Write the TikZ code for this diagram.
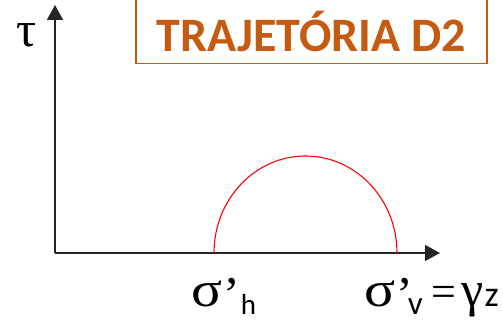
\documentclass[tikz,border=0pt]{standalone}
\usepackage{fontspec}
\setmainfont{Carlito}
\newfontfamily\grk{Liberation Serif}
\usetikzlibrary{arrows.meta,positioning}
\definecolor{trajorange}{RGB}{197,90,17}
\newcommand{\gk}[1]{{\grk\fontsize{50}{54}\selectfont #1}}
\newcommand{\prm}{\raisebox{-5pt}{\gk{’}}}

\begin{document}
\begin{tikzpicture}[x=1pt,y=1pt,>={Triangle[length=15pt,width=16pt]},
  axis/.style={line width=1.5pt,draw=black!85},
  mohr/.style={draw=red,line width=1.1pt},
  titlebox/.style={draw=trajorange,line width=1.5pt,text=trajorange,
    minimum width=351pt,minimum height=64pt,inner sep=0pt,
    font=\fontsize{48}{52}\selectfont\bfseries},
  lbl/.style={inner sep=0pt,font=\fontsize{33}{36}\selectfont}]
  \useasboundingbox (0,0) rectangle (503,323);
  % axes
  \coordinate (O) at (55,70);
  \coordinate (ytip) at (55,318);
  \coordinate (xtip) at (440,70);
  \draw[axis,->] (O) -- (ytip);
  \draw[axis,->] (O) -- (xtip);
  % semicircle
  \coordinate (sh) at (214,70);
  \draw[mohr] (sh) arc[start angle=180,end angle=0,x radius=91.5,y radius=97];
  \node[titlebox] (title) at (311.5,291.5) {TRAJETÓRIA D2};
  % labels
  \node[lbl,anchor=base west] (tau) at (16,276) {\gk{τ}};
  \node[lbl,anchor=base west] (sigh) at (191,16)
    {\scalebox{1.15}[1]{\gk{σ}}\kern1pt\prm\kern1pt\raisebox{-8pt}{\fontsize{29}{30}\selectfont h}};
  \node[lbl,anchor=base west] (sigv) at (364,16)
    {\scalebox{1.15}[1]{\gk{σ}}\kern1pt\prm\kern-5pt\raisebox{-8pt}{v}\kern9pt{\grk\fontsize{44}{46}\selectfont =}\kern5pt\gk{γ}\kern1pt{\fontsize{36}{40}\selectfont z}};
\end{tikzpicture}
\end{document}
